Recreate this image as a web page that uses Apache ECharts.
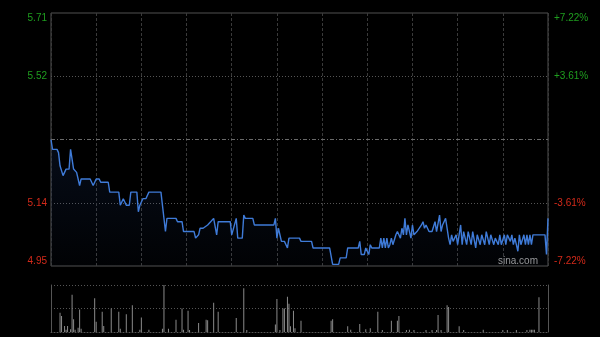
<!DOCTYPE html>
<html>
<head>
<meta charset="utf-8">
<script src="https://cdn.jsdelivr.net/npm/echarts@6/dist/echarts.min.js"></script>
<style>
html,body{margin:0;padding:0;background:#000;}
#chart{width:600px;height:337px;}
</style>
</head>
<body>
<div id="chart"></div>
<script>
// ---- data ----
const prevClose = 5.33;
const leftLabels = ['4.95', '5.14', '', '5.52', '5.71'];
const rightLabels = ['-7.22%', '-3.61%', '', '+3.61%', '+7.22%'];

const priceMinutes = [0,1,4,5,6,7,8,10,12,13,14,15,17,19,20,26,28,30,32,33,38,39,45,46,48,49,50,52,53,57,58,59,61,63,65,73,76,77,83,84,87,88,95,96,98,99,101,104,106,108,109,110,111,119,120,121,123,124,127,128,129,134,135,148,149,150,151,153,155,157,158,165,166,173,174,185,187,191,192,196,197,204,205,206,208,209,211,212,213,218,219,220,221,222,223,224,225,226,227,229,230,232,233,234,235,236,237,239,240,241,243,244,246,247,248,249,251,253,255,256,258,259,260,262,264,265,266,267,268,269,270,272,273,274,276,277,279,280,282,283,285,286,288,289,291,292,294,295,297,298,299,301,302,303,305,306,307,308,309,310,311,312,314,315,316,317,318,319,320,328,329,330];
const prices = [5.33,5.30,5.30,5.29,5.25,5.25,5.22,5.24,5.24,5.30,5.30,5.24,5.23,5.19,5.21,5.21,5.19,5.21,5.21,5.20,5.20,5.17,5.17,5.13,5.15,5.15,5.13,5.13,5.17,5.17,5.11,5.13,5.15,5.15,5.17,5.17,5.05,5.09,5.09,5.08,5.08,5.05,5.05,5.03,5.04,5.06,5.06,5.07,5.08,5.09,5.09,5.04,5.08,5.08,5.04,5.04,5.09,5.03,5.03,5.10,5.09,5.09,5.07,5.07,5.09,5.03,5.06,5.02,5.02,5.00,5.03,5.03,5.02,5.02,5.00,5.00,4.95,4.95,4.97,4.97,5.00,5.00,5.02,4.98,4.98,5.00,4.98,5.01,5.00,5.00,5.03,5.00,5.03,5.00,5.03,5.00,5.01,5.03,5.01,5.04,5.05,5.03,5.06,5.04,5.09,5.04,5.07,5.03,5.07,5.04,5.05,5.05,5.07,5.08,5.06,5.07,5.05,5.05,5.08,5.05,5.10,5.05,5.07,5.09,5.03,5.01,5.04,5.02,5.02,5.04,5.01,5.07,5.01,5.05,5.01,5.05,5.01,5.05,5.00,5.04,5.01,5.04,5.01,5.05,5.01,5.04,5.01,5.03,5.01,5.04,5.01,5.04,5.01,5.04,5.02,5.04,5.01,5.03,5.01,4.99,5.04,5.01,5.04,5.01,5.04,5.01,5.04,5.01,5.04,5.04,4.98,5.09];

const volMinutes = [6,7,9,10,11,13,14,15,16,18,19,20,29,30,34,35,40,45,46,50,54,59,60,65,74,75,78,83,87,88,91,92,98,103,104,108,111,123,128,130,149,150,152,154,155,157,158,159,161,162,166,186,187,197,199,205,209,212,217,220,226,230,231,236,238,241,249,253,256,257,259,263,264,271,274,287,300,303,309,316,318,319,320,321,324];
const volumes = [41,34,13,5,13,6,79,27,5,9,48,7,72,22,43,13,50,43,7,38,57,5,31,5,7,100,7,26,50,5,45,4,19,26,25,62,43,30,93,4,16,70,4,50,50,75,60,12,45,8,24,24,27,12,5,17,6,8,43,4,24,24,34,4,5,4,4,4,4,36,4,57,53,12,4,5,4,4,4,4,5,5,5,5,74];

// ---- build ----
const green = '#1f9e1f';
const red = '#d42a1a';
const pctData = priceMinutes.map((m, i) => [m, (prices[i] / prevClose - 1) * 100]);
const volData = volMinutes.map((m, i) => [m, volumes[i]]);
const tickIdx = v => Math.round(Number(v) / 3.61) + 2;
const none = 'rgba(0,0,0,0)';

const chart = echarts.init(document.getElementById('chart'), null, {renderer: 'canvas'});
const labelBase = {
  fontSize: 10,
  fontFamily: '"Liberation Sans", Arial, sans-serif',
  color: v => Number(v) > 0.001 ? green : red,
  verticalAlignMinLabel: 'bottom',
  verticalAlignMaxLabel: 'top'
};
chart.setOption({
  backgroundColor: '#000',
  animation: false,
  grid: [
    {left: 51, right: 52, top: 13, height: 253, show: true, borderColor: '#505050', borderWidth: 1, backgroundColor: 'transparent'},
    {left: 51, right: 52, top: 285, height: 47}
  ],
  xAxis: [
    {gridIndex: 0, type: 'value', min: 0, max: 330, interval: 30,
     axisLine: {show: false}, axisTick: {show: false}, axisLabel: {show: false},
     splitLine: {show: true, lineStyle: {color: '#3a3a3a', type: [3, 2], width: 1}}},
    {gridIndex: 1, type: 'value', min: 0, max: 330, interval: 30,
     axisLine: {show: true, lineStyle: {color: '#555', type: [1, 2]}}, axisTick: {show: false}, axisLabel: {show: false},
     splitLine: {show: false}}
  ],
  yAxis: [
    {gridIndex: 0, type: 'value', min: -7.22, max: 7.22, interval: 3.61, position: 'left',
     axisLine: {show: false}, axisTick: {show: false},
     axisLabel: Object.assign({}, labelBase, {margin: 4, formatter: v => leftLabels[tickIdx(v)] || ''}),
     splitLine: {show: true, lineStyle: {color: [none, '#555', none, '#555', none], type: [1, 2], width: 1}}},
    {gridIndex: 0, type: 'value', min: -7.22, max: 7.22, interval: 3.61, position: 'right',
     axisLine: {show: false}, axisTick: {show: false},
     axisLabel: Object.assign({}, labelBase, {margin: 6, formatter: v => rightLabels[tickIdx(v)] || ''}),
     splitLine: {show: false}},
    {gridIndex: 1, type: 'value', min: 0, max: 100, interval: 50, position: 'left',
     axisLine: {show: true, lineStyle: {color: '#555'}}, axisTick: {show: false}, axisLabel: {show: false},
     splitLine: {show: true, lineStyle: {color: '#555', type: [1, 2]}}},
    {gridIndex: 1, type: 'value', min: 0, max: 100, interval: 50, position: 'right',
     axisLine: {show: true, lineStyle: {color: '#555'}}, axisTick: {show: false}, axisLabel: {show: false},
     splitLine: {show: false}}
  ],
  graphic: [
    {type: 'text', left: 498, top: 256, silent: true,
     style: {text: 'sina.com', fill: '#9a9a9a', font: '10px "Liberation Sans", Arial, sans-serif'}}
  ],
  series: [
    {type: 'line', xAxisIndex: 0, yAxisIndex: 0, data: pctData, showSymbol: false, symbol: 'none',
     lineStyle: {color: '#3f7bd8', width: 1.4},
     areaStyle: {origin: 'start', color: new echarts.graphic.LinearGradient(0, 0, 0, 1, [
       {offset: 0, color: 'rgba(40,80,160,0.22)'},
       {offset: 1, color: 'rgba(40,80,160,0.04)'}
     ])},
     markLine: {silent: true, symbol: 'none', label: {show: false},
       lineStyle: {color: '#6a6a6a', type: [4, 2, 1, 2], width: 1},
       data: [{yAxis: 0}]}
    },
    {type: 'bar', xAxisIndex: 1, yAxisIndex: 2, data: volData, barWidth: 1,
     itemStyle: {color: '#8a8a8a'}}
  ]
});
</script>
</body>
</html>
